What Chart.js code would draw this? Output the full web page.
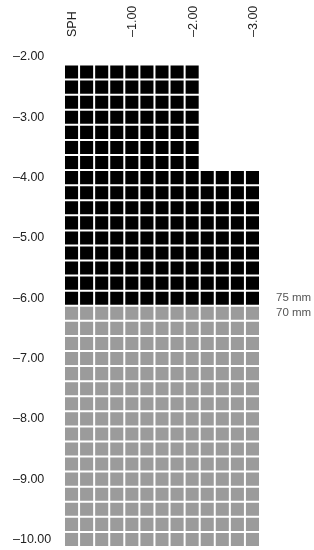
<!DOCTYPE html>
<html>
<head>
<meta charset="utf-8">
<script src="https://cdn.jsdelivr.net/npm/chart.js@4/dist/chart.umd.min.js"></script>
<style>
  html, body { margin: 0; padding: 0; background: #fff; }
  #wrap { width: 314px; height: 550px; }
</style>
</head>
<body>
<div id="wrap"><canvas id="chart1"></canvas></div>
<script>
// cylinder columns (first column is the SPH-only column)
const cylValues = [0, -0.25, -0.5, -0.75, -1, -1.25, -1.5, -1.75, -2, -2.25, -2.5, -2.75, -3];
const cylTickLabels = ['SPH', '', '', '', '–1.00', '', '', '', '–2.00', '', '', '', '–3.00'];

// 75 mm rows: sphere value and the lowest cylinder available in that row
const sph75 = [-2.25, -2.5, -2.75, -3, -3.25, -3.5, -3.75, -4, -4.25, -4.5, -4.75, -5, -5.25, -5.5, -5.75, -6];
const maxCyl75 = [-2, -2, -2, -2, -2, -2, -2, -3, -3, -3, -3, -3, -3, -3, -3, -3];

// 70 mm rows
const sph70 = [-6.25, -6.5, -6.75, -7, -7.25, -7.5, -7.75, -8, -8.25, -8.5, -8.75, -9, -9.25, -9.5, -9.75, -10];
const maxCyl70 = [-3, -3, -3, -3, -3, -3, -3, -3, -3, -3, -3, -3, -3, -3, -3, -3];

const sphTicks = [-2, -3, -4, -5, -6, -7, -8, -9, -10];
const diameterTicks = [-6, -6.25];
const diameterLabels = ['75 mm', '70 mm'];

const STEP = 0.25;
const FONT = "'Liberation Sans', Arial, sans-serif";

function cells(rows, maxCyl) {
  const out = [];
  rows.forEach((sph, i) => {
    cylValues.forEach(c => {
      if (c >= maxCyl[i]) out.push({ x: c.toFixed(2), y: [sph + STEP / 2, sph - STEP / 2] });
    });
  });
  return out;
}

const fmt = v => (v < 0 ? '–' : '') + Math.abs(v).toFixed(2);

// no extra end padding from the vertical axes
const noPad = s => { s.paddingTop = 0; s.paddingBottom = 0; };

const ctx = document.getElementById('chart1');
new Chart(ctx, {
  type: 'bar',
  data: {
    labels: cylValues.map(c => c.toFixed(2)),
    datasets: [
      {
        label: '75 mm',
        data: cells(sph75, maxCyl75),
        backgroundColor: '#000000',
        borderColor: '#ffffff',
        borderWidth: 1,
        borderSkipped: false,
        inflateAmount: 0
      },
      {
        label: '70 mm',
        data: cells(sph70, maxCyl70),
        backgroundColor: '#9b9b9b',
        borderColor: '#ffffff',
        borderWidth: 1,
        borderSkipped: false,
        inflateAmount: 0
      }
    ]
  },
  options: {
    responsive: true,
    maintainAspectRatio: false,
    animation: false,
    layout: { padding: { left: 13, right: 0, top: 0, bottom: 3 } },
    plugins: { legend: { display: false }, tooltip: { enabled: false } },
    datasets: { bar: { barPercentage: 1, categoryPercentage: 1 } },
    scales: {
      x: {
        position: 'top',
        stacked: true,
        grid: { display: false, drawTicks: false },
        border: { display: false },
        ticks: {
          autoSkip: false,
          minRotation: 90,
          maxRotation: 90,
          padding: 20,
          labelOffset: 16,
          color: '#222',
          font: { family: FONT, size: 12.5 },
          callback: (v, i) => cylTickLabels[i]
        },
        afterFit: s => { s.height = 57; s.paddingLeft = 0; s.paddingRight = 0; }
      },
      y: {
        position: 'left',
        stacked: false,
        min: -10.125,
        max: -2,
        grid: { display: false, drawTicks: false },
        border: { display: false },
        afterBuildTicks: s => { s.ticks = sphTicks.map(v => ({ value: v })); },
        ticks: {
          crossAlign: 'far',
          color: '#222',
          font: { family: FONT, size: 12.5 },
          callback: v => fmt(v)
        },
        afterFit: s => { s.width = 51; noPad(s); }
      },
      y2: {
        position: 'right',
        min: -10.125,
        max: -2,
        grid: { display: false, drawTicks: false },
        border: { display: false },
        afterBuildTicks: s => { s.ticks = diameterTicks.map(v => ({ value: v })); },
        ticks: {
          padding: 16,
          color: '#555',
          font: { family: FONT, size: 11.5 },
          callback: (v, i) => diameterLabels[diameterTicks.indexOf(v)]
        },
        afterFit: s => { s.width = 54; noPad(s); }
      }
    }
  }
});
</script>
</body>
</html>
